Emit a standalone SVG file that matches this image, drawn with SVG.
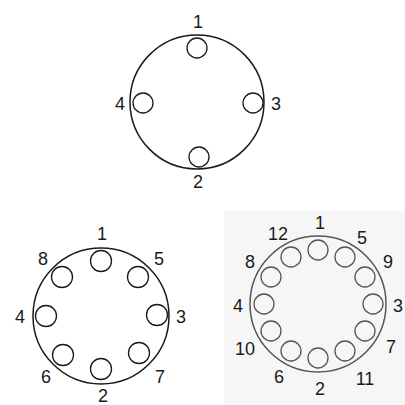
<svg xmlns="http://www.w3.org/2000/svg" width="405" height="405" viewBox="0 0 405 405">
<style>
.big{fill:none;stroke:#1a1a1a;stroke-width:1.5}
.pin{fill:none;stroke:#1a1a1a;stroke-width:1.3}
.g .big,.g .pin{stroke:#555}
text{font-family:"Liberation Sans",Arial,sans-serif;font-size:18px;fill:#1a1a1a;text-anchor:middle}
</style>
<rect x="224" y="211" width="181" height="194" fill="#f6f6f6"/>
<g id="connector4">
<circle class="big" cx="197" cy="102" r="67"/>
<circle class="pin" cx="197" cy="48" r="10"/>
<circle class="pin" cx="253" cy="103" r="10"/>
<circle class="pin" cx="199" cy="157" r="10"/>
<circle class="pin" cx="143" cy="103" r="10"/>
<text x="198" y="28">1</text>
<text x="276" y="110">3</text>
<text x="198" y="188">2</text>
<text x="120" y="110">4</text>
</g>
<g id="connector8">
<circle class="big" cx="101" cy="316" r="68"/>
<circle class="pin" cx="101" cy="261" r="10.5"/>
<circle class="pin" cx="138" cy="277" r="10.5"/>
<circle class="pin" cx="157" cy="315" r="10.5"/>
<circle class="pin" cx="139" cy="353" r="10.5"/>
<circle class="pin" cx="101" cy="369" r="10.5"/>
<circle class="pin" cx="63" cy="355" r="10.5"/>
<circle class="pin" cx="46" cy="316" r="10.5"/>
<circle class="pin" cx="62" cy="277" r="10.5"/>
<text x="102" y="240">1</text>
<text x="159" y="265">5</text>
<text x="181" y="323">3</text>
<text x="160" y="383">7</text>
<text x="103" y="402">2</text>
<text x="46" y="383">6</text>
<text x="20" y="323">4</text>
<text x="43" y="265">8</text>
</g>
<g id="connector12" class="g">
<circle class="big" cx="318" cy="304" r="68"/>
<circle class="pin" cx="318" cy="250" r="10"/>
<circle class="pin" cx="345" cy="257" r="10"/>
<circle class="pin" cx="365" cy="277" r="10"/>
<circle class="pin" cx="373" cy="304" r="10"/>
<circle class="pin" cx="365" cy="331" r="10"/>
<circle class="pin" cx="345" cy="351" r="10"/>
<circle class="pin" cx="318" cy="358" r="10"/>
<circle class="pin" cx="291" cy="351" r="10"/>
<circle class="pin" cx="271" cy="331" r="10"/>
<circle class="pin" cx="264" cy="304" r="10"/>
<circle class="pin" cx="271" cy="277" r="10"/>
<circle class="pin" cx="291" cy="257" r="10"/>
<text x="320" y="229">1</text>
<text x="362" y="244">5</text>
<text x="388" y="268">9</text>
<text x="398" y="312">3</text>
<text x="391" y="353">7</text>
<text x="365" y="385">11</text>
<text x="320" y="395">2</text>
<text x="279" y="383">6</text>
<text x="245" y="355">10</text>
<text x="238" y="312">4</text>
<text x="250" y="268">8</text>
<text x="278" y="240">12</text>
</g>
</svg>
